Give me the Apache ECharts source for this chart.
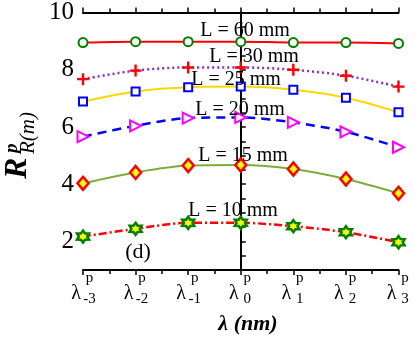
<!DOCTYPE html>
<html><head><meta charset="utf-8">
<script src="https://cdn.jsdelivr.net/npm/echarts@6/dist/echarts.min.js"></script>
<style>html,body{margin:0;padding:0;background:#fff}#c{width:415px;height:338px}</style>
</head><body><div id="c"></div>
<script>
// x positions (index of lambda^p) and tick subscripts
var xIndex = [-3, -2, -1, 0, 1, 2, 3];
var tickSubs = ['-3', '-2', '-1', '0', '1', '2', '3'];
var yTickLabels = [2, 4, 6, 8, 10];
// series values R^p_R(m)
var L60 = [8.95, 8.98, 8.98, 8.98, 8.95, 8.95, 8.92];
var L30 = [7.67, 7.97, 8.08, 8.08, 8.00, 7.79, 7.41];
var L25 = [6.89, 7.24, 7.39, 7.41, 7.30, 7.02, 6.51];
var L20 = [5.66, 6.04, 6.31, 6.33, 6.16, 5.83, 5.29];
var L15 = [4.03, 4.41, 4.65, 4.67, 4.53, 4.18, 3.68];
var L10 = [2.17, 2.44, 2.65, 2.65, 2.53, 2.32, 1.97];
var seriesNames = ['L = 60 mm', 'L = 30 mm', 'L = 25 mm', 'L = 20 mm', 'L = 15 mm', 'L = 10 mm'];

function pairs(arr) { return xIndex.map(function (x, i) { return [x, arr[i]]; }); }

// hexagram path
function starPath() {
  var pts = [];
  for (var k = 0; k < 12; k++) {
    var a = -Math.PI / 2 + k * Math.PI / 6;
    var r = (k % 2 === 0) ? 10 : 6;
    pts.push((10 + r * Math.cos(a)).toFixed(2) + ',' + (10 + r * Math.sin(a)).toFixed(2));
  }
  return 'path://M' + pts.join('L') + 'Z';
}
var plusPath = 'path://M4,0H6V4H10V6H6V10H4V6H0V4H4Z';
var triRight = 'path://M0,0L10,5L0,10Z';

var serif = '"Liberation Serif", "Times New Roman", serif';

function mk(name, data, line, sym) {
  return Object.assign({
    name: name, type: 'line', data: pairs(data), smooth: 0.3,
    lineStyle: line, z: 3
  }, sym);
}

var axisCommon = {
  type: 'value', min: -3, max: 3, interval: 1,
  axisLine: { show: true, lineStyle: { color: '#000', width: 2 } },
  splitLine: { show: false },
  minorTick: { show: true, splitNumber: 2, length: 4, lineStyle: { color: '#000', width: 1.5 } },
  axisTick: { show: true, inside: false, length: 5, lineStyle: { color: '#000', width: 1.5 } }
};

function txt(s, x, y, font, align) {
  return { type: 'text', x: x, y: y, z: 10,
    style: { text: s, font: font, fill: '#000', align: align || 'center', verticalAlign: 'middle' } };
}

var option = {
  animation: false,
  grid: { left: 83, right: 10, top: 12, bottom: 68 },
  xAxis: [
    Object.assign({}, axisCommon, {
      position: 'bottom',
      axisLabel: {
        margin: 3, color: '#000', fontFamily: serif,
        formatter: function (v) {
          var i = xIndex.indexOf(Math.round(v));
          return '{e|}{p|p}\n{l|λ}{s|' + tickSubs[i] + '}';
        },
        rich: {
          e: { width: 13, fontSize: 15, lineHeight: 11 },
          p: { width: 14, fontSize: 15, lineHeight: 11, align: 'left', fontFamily: serif, color: '#000' },
          l: { width: 13, fontSize: 20, lineHeight: 14, align: 'right', verticalAlign: 'top', fontFamily: serif, color: '#000' },
          s: { width: 14, fontSize: 15, lineHeight: 23, align: 'left', verticalAlign: 'bottom', fontFamily: serif, color: '#000' }
        }
      }
    }),
    Object.assign({}, axisCommon, { position: 'top', axisLabel: { show: false } })
  ],
  yAxis: [
    {
      type: 'value', min: 1, max: 10, interval: 1, position: 'left',
      axisLine: { show: true, lineStyle: { color: '#000', width: 2 } },
      splitLine: { show: false },
      axisTick: { show: true, inside: true, length: 5, lineStyle: { color: '#000', width: 1.5 } },
      minorTick: { show: true, splitNumber: 2, length: 4, lineStyle: { color: '#000', width: 1.5 } },
      axisLabel: {
        margin: 9, color: '#000', fontSize: 25, fontFamily: serif,
        formatter: function (v) { return yTickLabels.indexOf(v) >= 0 ? String(v) : ''; }
      }
    },
    {
      type: 'value', min: 1, max: 10, interval: 1, position: 'right',
      axisLine: { show: true, lineStyle: { color: '#000', width: 2 } },
      splitLine: { show: false },
      axisTick: { show: true, inside: false, length: 5, lineStyle: { color: '#000', width: 1.5 } },
      minorTick: { show: true, splitNumber: 2, length: 5, lineStyle: { color: '#000', width: 1.5 } },
      axisLabel: { show: false }
    }
  ],
  series: [
    mk(seriesNames[0], L60, { color: '#ff0000', width: 2 },
      { symbol: 'circle', symbolSize: 9, itemStyle: { color: '#fff', borderColor: '#008000', borderWidth: 2 } }),
    mk(seriesNames[1], L30, { color: '#8a2be2', width: 2.5, type: [2, 3] },
      { symbol: plusPath, symbolSize: 12, itemStyle: { color: '#ff0000' } }),
    mk(seriesNames[2], L25, { color: '#ffd700', width: 2 },
      { symbol: 'rect', symbolSize: 8, itemStyle: { color: '#fff', borderColor: '#0000ff', borderWidth: 2 } }),
    mk(seriesNames[3], L20, { color: '#0000ff', width: 2.5, type: [9, 6] },
      { symbol: triRight, symbolSize: 11, itemStyle: { color: '#fff', borderColor: '#ff00ff', borderWidth: 2 } }),
    mk(seriesNames[4], L15, { color: '#7cad3a', width: 2 },
      { symbol: 'diamond', symbolSize: [11, 13], itemStyle: { color: '#ffff00', borderColor: '#ff0000', borderWidth: 2.5 } }),
    mk(seriesNames[5], L10, { color: '#ff0000', width: 2.5, type: [8, 3, 2, 3] },
      { symbol: starPath(), symbolSize: 12, itemStyle: { color: '#ffff00', borderColor: '#008000', borderWidth: 2.5 } })
  ],
  graphic: [
    txt(seriesNames[0], 245, 31, '20px ' + serif),
    txt(seriesNames[1], 254, 57, '20px ' + serif),
    txt(seriesNames[2], 236, 80, '20px ' + serif),
    txt(seriesNames[3], 240, 110, '20px ' + serif),
    txt(seriesNames[4], 243, 156, '20px ' + serif),
    txt(seriesNames[5], 233, 211, '20px ' + serif),
    txt('(d)', 138, 252, '22px ' + serif),
    txt('λ (nm)', 248, 324, 'italic bold 22px ' + serif),
    {
      type: 'group', x: 18, y: 183, rotation: Math.PI / 2,
      children: [
        txt('R', 4, 0, 'italic bold 32px ' + serif, 'left'),
        txt('p', 30, -6, 'italic bold 19px ' + serif, 'left'),
        txt('R(m)', 29, 10, 'italic 21px ' + serif, 'left')
      ]
    }
  ]
};
echarts.init(document.getElementById('c')).setOption(option);
</script></body></html>
